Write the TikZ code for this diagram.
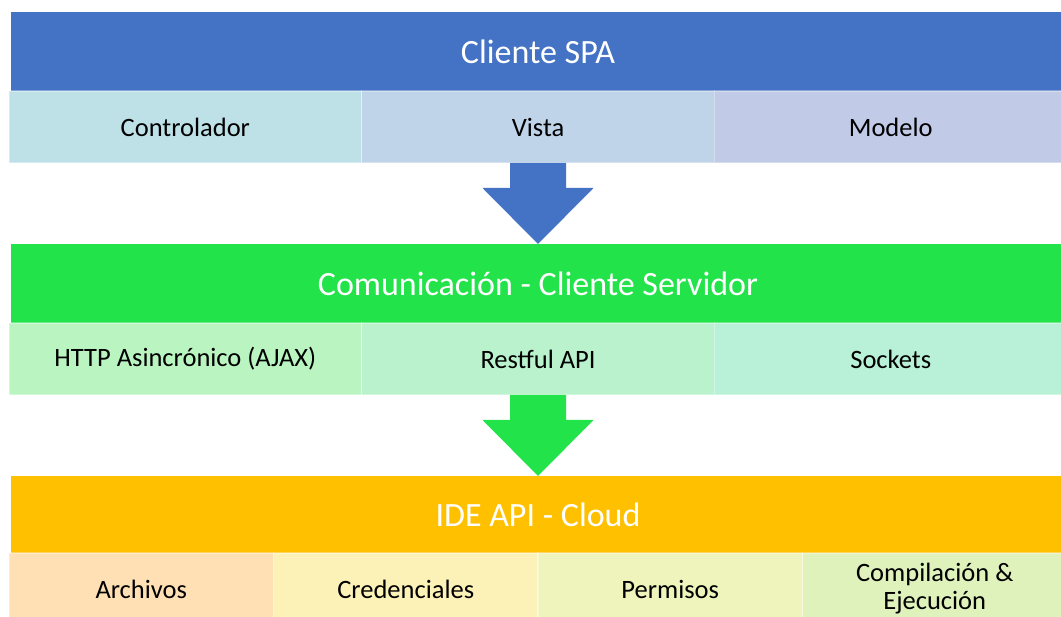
\documentclass[tikz,border=0pt]{standalone}
\usepackage{fontspec}
\setmainfont{Carlito}
\usepackage{tikz}
\usetikzlibrary{positioning,calc}
\definecolor{spablue}{HTML}{4472C4}
\definecolor{comgreen}{HTML}{22E34A}
\definecolor{ideorange}{HTML}{FFC000}
\definecolor{ctrlfill}{HTML}{BEE1E8}
\definecolor{vistafill}{HTML}{C0D4E9}
\definecolor{modelofill}{HTML}{C1CAE6}
\definecolor{ajaxfill}{HTML}{BAF5C1}
\definecolor{restfill}{HTML}{B9F2CD}
\definecolor{sockfill}{HTML}{B8F0D8}
\definecolor{archfill}{HTML}{FFE0B5}
\definecolor{credfill}{HTML}{FCF2B8}
\definecolor{permfill}{HTML}{EEF4BB}
\definecolor{compfill}{HTML}{DFF2BB}
\tikzset{
    %Define style for the layer titles
    layer/.style={
           rectangle,
           inner sep=0pt, outer sep=0pt,
           minimum width=1054pt,
           minimum height=79pt,
           text=white,
           font=\fontsize{34}{40}\selectfont,
           text centered},
    %Define style for the parts of a layer
    part/.style={
           rectangle,
           inner sep=0pt, outer sep=0pt,
           draw=white, draw opacity=0.35, line width=1.2pt,
           minimum height=72pt,
           font=\fontsize{26.5}{28}\selectfont,
           align=center},
    % Define widths of the parts
    third/.style={part, minimum width=352.7pt},
    fourth/.style={part, minimum width=264.5pt}
}
\begin{document}
\begin{tikzpicture}
\useasboundingbox[fill=white] (0,0) rectangle (1061pt,617pt);
% client
\node[layer, fill=spablue] (spa) at (538pt,565.5pt) {Cliente SPA};
\node[third, fill=ctrlfill, anchor=north west] (ctrl) at ($(spa.south west)+(-2pt,0)$) {Controlador};
\node[third, fill=vistafill, right=0pt of ctrl] (vista) {Vista};
\node[third, fill=modelofill, right=0pt of vista] (modelo) {Modelo};
% communication
\node[layer, fill=comgreen, below=153pt of spa] (com) {Comunicación - Cliente Servidor};
\node[third, fill=ajaxfill, anchor=north west] (ajax) at ($(com.south west)+(-2pt,0)$) {HTTP Asincrónico (AJAX)};
\node[third, fill=restfill, right=0pt of ajax] (rest) {Restful API};
\node[third, fill=sockfill, right=0pt of rest] (sockets) {Sockets};
% cloud
\node[layer, fill=ideorange, minimum height=77pt, below=153pt of com] (ide) {IDE API - Cloud};
\node[fourth, fill=archfill, anchor=north west] (arch) at ($(ide.south west)+(-2pt,0)$) {Archivos};
\node[fourth, fill=credfill, right=0pt of arch] (cred) {Credenciales};
\node[fourth, fill=permfill, right=0pt of cred] (perm) {Permisos};
\node[fourth, fill=compfill, right=0pt of perm] (comp) {Compilación \&\\Ejecución};
% block arrows
\fill[spablue] ($(com.north |- vista.south)+(-28pt,0)$) |- ($(com.north)+(-28pt,56pt)$) -- ++(-27.5pt,0)
    -- (com.north) -- ++(55.5pt,56pt) -- ++(-27.5pt,0) |- ($(com.north |- vista.south)+(28pt,0)$) -- cycle;
\fill[comgreen] ($(ide.north |- rest.south)+(-28pt,0)$) |- ($(ide.north)+(-28pt,56pt)$) -- ++(-27.5pt,0)
    -- (ide.north) -- ++(55.5pt,56pt) -- ++(-27.5pt,0) |- ($(ide.north |- rest.south)+(28pt,0)$) -- cycle;
\end{tikzpicture}
\end{document}
